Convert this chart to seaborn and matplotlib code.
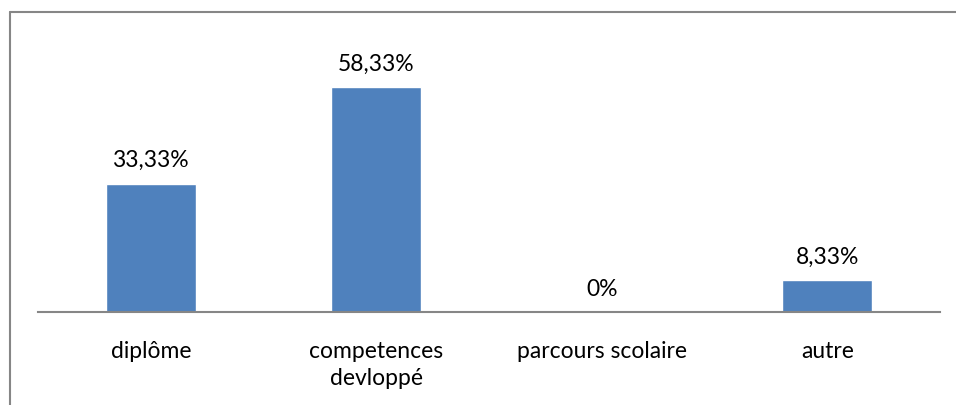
import matplotlib
matplotlib.use("Agg")
import matplotlib.pyplot as plt
import seaborn as sns
import pandas as pd
from matplotlib.lines import Line2D

categories = ["diplôme", "competences\ndevloppé", "parcours scolaire", "autre"]
values = [33.33, 58.33, 0.0, 8.33]
value_labels = ["33,33%", "58,33%", "0%", "8,33%"]

sns.set_theme(style="white")
plt.rcParams['font.family'] = ['Lato', 'DejaVu Sans']

df = pd.DataFrame({"cat": categories, "val": values})

W, H = 956, 405
fig = plt.figure(figsize=(W / 100, H / 100), dpi=100)
ax = fig.add_axes([38 / W, (H - 312) / H, 902 / W, (312 - 20) / H])

sns.barplot(data=df, x="cat", y="val", color="#4F81BD", width=0.4,
            saturation=1, ax=ax)
ax.set_ylim(0, 292 / 3.85)
ax.set_xlim(-0.5, 3.5)

for i, (v, lab) in enumerate(zip(values, value_labels)):
    ax.annotate(lab, (i, v), xytext=(0, 23), textcoords="offset pixels",
                ha="center", va="center", fontsize=16.5, color="black")

for s in ["top", "left", "right"]:
    ax.spines[s].set_visible(False)
ax.spines["bottom"].set_color("#868686")
ax.spines["bottom"].set_linewidth(1.5)
ax.set_yticks([])
ax.set_xlabel("")
ax.set_ylabel("")
ax.tick_params(axis="x", length=0, pad=21, labelsize=16.5, colors="black")
for t in ax.get_xticklabels():
    t.set_verticalalignment("top")
    t.set_linespacing(1.32)

# outer chart frame (left and top edges visible)
fig.add_artist(Line2D([9.5 / W, 9.5 / W], [0, (H - 12) / H], transform=fig.transFigure,
                      color="#868686", linewidth=1.5))
fig.add_artist(Line2D([9.5 / W, 1.0], [(H - 12) / H, (H - 12) / H], transform=fig.transFigure,
                      color="#868686", linewidth=1.5))

fig.savefig("out.png", dpi=100)
